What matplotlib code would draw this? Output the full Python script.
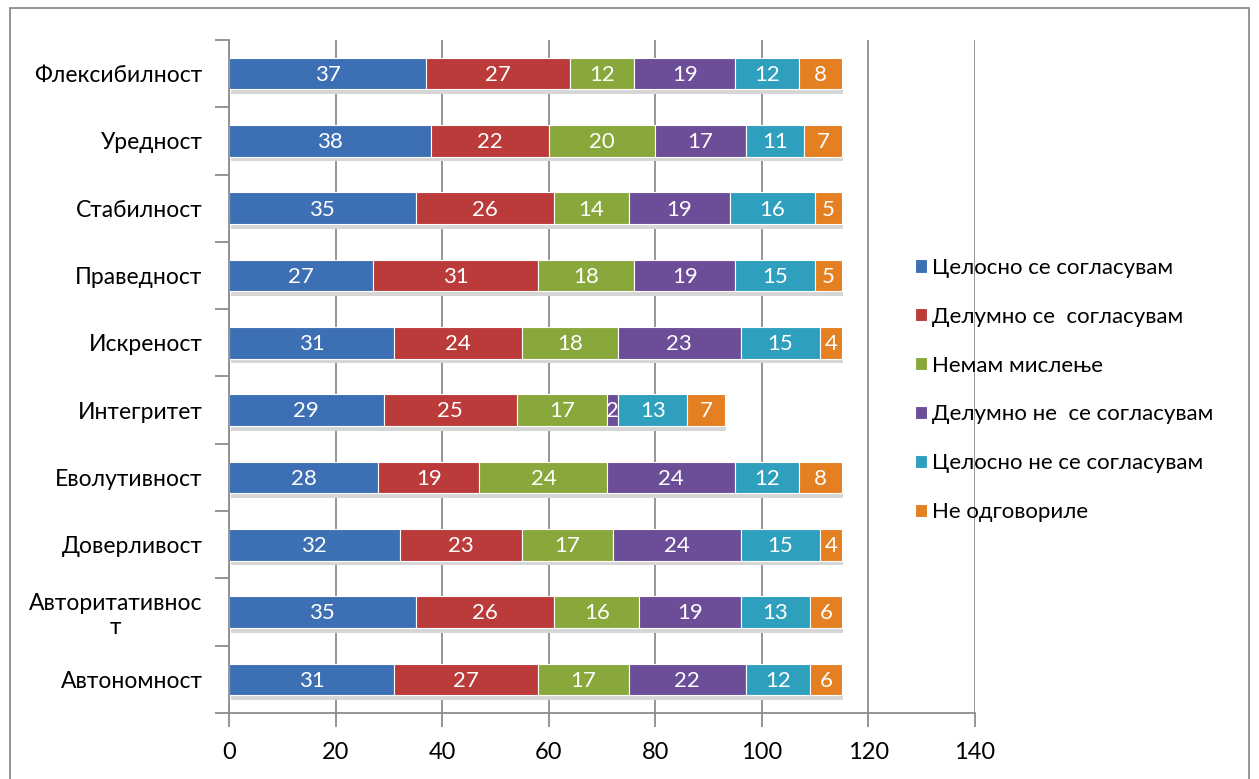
import numpy as np
import matplotlib.pyplot as plt
from matplotlib.patches import Rectangle

plt.rcParams['font.family'] = ['Lato', 'Noto Sans', 'DejaVu Sans']

categories = ["Автономност", "Авторитативнос\nт", "Доверливост", "Еволутивност",
              "Интегритет", "Искреност", "Праведност", "Стабилност",
              "Уредност", "Флексибилност"]

series_names = ["Целосно се согласувам", "Делумно се  согласувам", "Немам мислење",
                "Делумно не  се согласувам", "Целосно не се согласувам", "Не одговориле"]

tselosno = [31, 35, 32, 28, 29, 31, 27, 35, 38, 37]
delumno = [27, 26, 23, 19, 25, 24, 31, 26, 22, 27]
nemam = [17, 16, 17, 24, 17, 18, 18, 14, 20, 12]
delumno_ne = [22, 19, 24, 24, 2, 23, 19, 19, 17, 19]
tselosno_ne = [12, 13, 15, 12, 13, 15, 15, 16, 11, 12]
ne_odgovorile = [6, 6, 4, 8, 7, 4, 5, 5, 7, 8]

data = [tselosno, delumno, nemam, delumno_ne, tselosno_ne, ne_odgovorile]
colors = ["#3d6fb5", "#bb3b3a", "#89a83c", "#6c4d98", "#2ea0bd", "#e47f22"]

fig = plt.figure(figsize=(12.59, 7.79), dpi=100)
ax = fig.add_axes([0.1819, 0.0847, 0.5925, 0.864])

y = np.arange(len(categories))
h = 0.47

# shadow under bars
totals = np.sum(np.array(data), axis=0)
ax.barh(y - 0.07, totals, height=h, color="#d6d6d6", zorder=1, left=0.3)

left = np.zeros(len(categories))
for vals, col, name in zip(data, colors, series_names):
    bars = ax.barh(y, vals, height=h, left=left, color=col, edgecolor="white",
                   linewidth=0.8, label=name, zorder=2)
    for b, v in zip(bars, vals):
        ax.text(b.get_x() + b.get_width() / 2, b.get_y() + b.get_height() / 2 - 0.02,
                str(v), ha="center", va="center", color="white", fontsize=16, zorder=3)
    left += np.array(vals)

ax.set_xlim(0, 140)
ax.set_ylim(-0.5, len(categories) - 0.5)
ax.set_xticks(range(0, 141, 20))
ax.xaxis.grid(True, color="#8c8c8c", linewidth=1.3, zorder=0)
ax.set_axisbelow(True)

ax.set_yticks(y)
ax.set_yticklabels(categories)
for lab in ax.get_yticklabels():
    lab.set_multialignment("center")
ax.set_yticks(np.arange(-0.5, len(categories), 1), minor=True)
ax.tick_params(axis="y", which="major", length=0, pad=19, labelsize=16.5)
ax.tick_params(axis="y", which="minor", length=10, color="#8c8c8c", width=1.3)
ax.tick_params(axis="x", length=10, color="#8c8c8c", width=1.3, labelsize=17, pad=11)

for s in ["top", "right"]:
    ax.spines[s].set_visible(False)
for s in ["left", "bottom"]:
    ax.spines[s].set_color("#8c8c8c")
    ax.spines[s].set_linewidth(1.3)

ax.legend(loc="center left", bbox_to_anchor=(0.893, 0.48), frameon=False, fontsize=16,
          handlelength=0.55, handleheight=0.55, labelspacing=1.3, handletextpad=0.2)

fig.patches.append(Rectangle((10 / 1259, -0.05), 1239 / 1259, 1.05 - 8 / 779,
                             transform=fig.transFigure, fill=False,
                             edgecolor="#8c8c8c", linewidth=1.3))

fig.savefig("out.png", dpi=100)
